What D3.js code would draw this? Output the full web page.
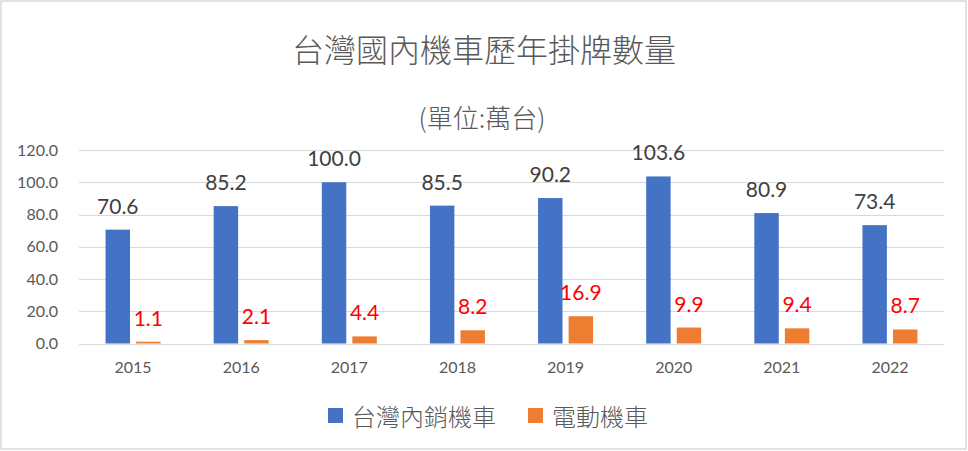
<!DOCTYPE html>
<html><head><meta charset="utf-8">
<script src="https://cdn.jsdelivr.net/npm/d3@7"></script>
<style>html,body{margin:0;padding:0;background:#fff;}svg{display:block;}</style>
</head><body>
<script>
const years = ["2015","2016","2017","2018","2019","2020","2021","2022"];
const domestic = [70.6, 85.2, 100.0, 85.5, 90.2, 103.6, 80.9, 73.4];
const electric = [1.1, 2.1, 4.4, 8.2, 16.9, 9.9, 9.4, 8.7];
const seriesNames = ["台灣內銷機車", "電動機車"];
const yTicks = [0, 20, 40, 60, 80, 100, 120];
const titleText = "台灣國內機車歷年掛牌數量";
const subtitleText = "(單位:萬台)";

const W = 968, H = 451;
const numFont = "Lato, 'Noto Sans CJK TC', sans-serif";
const cjkFont = "'Noto Sans CJK TC', 'Noto Sans', sans-serif";
const colors = ["#4472C4", "#ED7D31"];
const labelColors = ["#404040", "#FF0000"];

const svg = d3.select("body").append("svg").attr("width", W).attr("height", H);
svg.append("rect").attr("x", 1).attr("y", 1).attr("width", 965).attr("height", 448)
  .attr("fill", "#fff").attr("stroke", "#d9d9d9").attr("stroke-width", 1.5);

const x = d3.scaleBand().domain(years).range([79, 944]);
const y = d3.scaleLinear().domain([0, 120]).range([343.5, 150]);
const xs = d3.scaleBand().domain([0, 1]).range([-27.5, 27.5]).paddingInner(0.2);

// gridlines
svg.append("g").selectAll("line").data(yTicks).join("line")
  .attr("x1", 79).attr("x2", 944)
  .attr("y1", d => Math.round(y(d)) + 0.5).attr("y2", d => Math.round(y(d)) + 0.5)
  .attr("stroke", "#d9d9d9").attr("stroke-width", 1);

// y axis labels
const yAxis = d3.axisLeft(y).tickValues(yTicks).tickFormat(d3.format(".1f")).tickSize(0).tickPadding(0);
const gy = svg.append("g").attr("transform", "translate(58,0)").call(yAxis);
gy.select(".domain").remove();
gy.selectAll("text").attr("font-family", numFont).attr("font-size", 16).attr("fill", "#595959");

// x axis labels
const xAxis = d3.axisBottom(x).tickSize(0).tickPadding(0);
const gx = svg.append("g").attr("transform", "translate(0,362)").call(xAxis);
gx.select(".domain").remove();
gx.selectAll("text").attr("font-family", numFont).attr("font-size", 16).attr("fill", "#595959");

const series = [domestic, electric];
series.forEach((vals, si) => {
  const g = svg.append("g");
  g.selectAll("rect").data(vals).join("rect")
    .attr("x", (d, i) => x(years[i]) + x.bandwidth() / 2 + xs(si))
    .attr("width", xs.bandwidth())
    .attr("y", d => y(d))
    .attr("height", d => y(0) - y(d))
    .attr("fill", colors[si]);
  g.selectAll("text").data(vals).join("text")
    .attr("x", (d, i) => x(years[i]) + x.bandwidth() / 2 + xs(si) + xs.bandwidth() / 2)
    .attr("y", d => y(d) - 16)
    .attr("text-anchor", "middle")
    .attr("font-family", numFont).attr("font-size", 21)
    .attr("fill", labelColors[si])
    .text(d => d3.format(".1f")(d));
});

// titles
svg.append("text").attr("x", 484).attr("y", 48).attr("dominant-baseline", "central")
  .attr("text-anchor", "middle").attr("font-family", cjkFont).attr("font-size", 32)
  .attr("font-weight", 300).attr("fill", "#595959").text(titleText);
svg.append("text").attr("x", 482).attr("y", 116).attr("dominant-baseline", "central")
  .attr("text-anchor", "middle").attr("font-family", cjkFont).attr("font-size", 26)
  .attr("font-weight", 300).attr("fill", "#595959").text(subtitleText);

// legend
const legX = [328, 528];
const leg = svg.append("g");
seriesNames.forEach((name, i) => {
  leg.append("rect").attr("x", legX[i]).attr("y", 408).attr("width", 15).attr("height", 15).attr("fill", colors[i]);
  leg.append("text").attr("x", legX[i] + 24).attr("y", 415.5).attr("dominant-baseline", "central")
    .attr("font-family", cjkFont).attr("font-size", 24).attr("font-weight", 300)
    .attr("fill", "#595959").text(name);
});
</script>
</body></html>
